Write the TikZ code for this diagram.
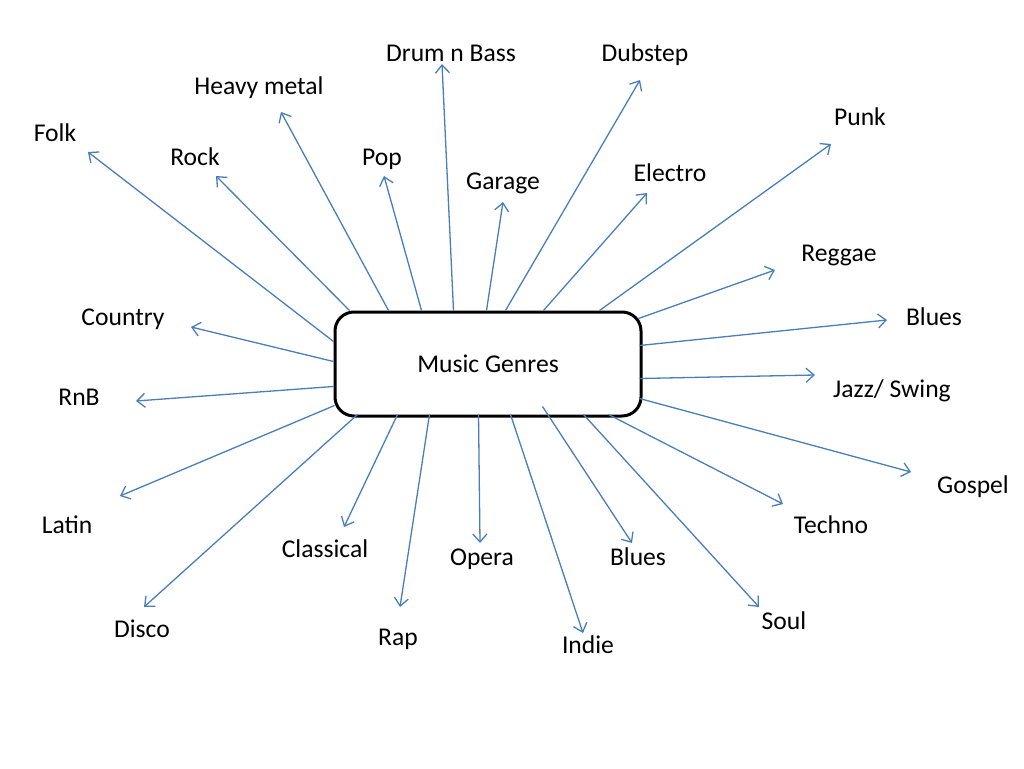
\documentclass[tikz,border=0pt]{standalone}
\usepackage{fontspec}
\setmainfont{Carlito}
\usetikzlibrary{arrows.meta,calc}
\definecolor{arrowblue}{RGB}{74,126,187}
\tikzset{
  genre/.style={font=\fontsize{25.6}{30}\selectfont, inner sep=0pt, text height=16.5pt, text depth=0pt, anchor=center},
  hub/.style={draw=black, line width=3pt, rounded corners=19pt, minimum width=306pt, minimum height=104pt, fill=white, font=\fontsize{25.6}{30}\selectfont},
  link/.style={draw=arrowblue, line width=1.3pt, -{Straight Barb[length=8pt,width=14pt,line width=1.3pt]}}
}
\begin{document}
\begin{tikzpicture}[x=1pt,y=-1pt]
\useasboundingbox (0,0) rectangle (1024,768);
\node[hub] (box) at (488,364) {Music Genres};
% labels
\node[genre] (dnb) at (451,53) {Drum n Bass};
\node[genre] (dub) at (645,53) {Dubstep};
\node[genre] (hm) at (259,86) {Heavy metal};
\node[genre] (folk) at (55,133) {Folk};
\node[genre] (rock) at (195,157) {Rock};
\node[genre] (pop) at (382,157) {Pop};
\node[genre] (gar) at (503,181) {Garage};
\node[genre] (ele) at (670,173) {Electro};
\node[genre] (punk) at (860,117) {Punk};
\node[genre] (reg) at (839,253) {Reggae};
\node[genre] (bluesR) at (934,317) {Blues};
\node[genre] (jazz) at (892,389) {Jazz/ Swing};
\node[genre] (gos) at (973,485) {Gospel};
\node[genre] (tech) at (831,525) {Techno};
\node[genre] (soul) at (784,621) {Soul};
\node[genre] (bluesB) at (638,557) {Blues};
\node[genre] (indie) at (588,645) {Indie};
\node[genre] (opera) at (482,557) {Opera};
\node[genre] (rap) at (398,637) {Rap};
\node[genre] (clas) at (325,549) {Classical};
\node[genre] (disco) at (142,629) {Disco};
\node[genre] (latin) at (67,525) {Latin};
\node[genre] (rnb) at (79,397) {RnB};
\node[genre] (ctry) at (123,317) {Country};
% arrow tips
\coordinate (tFolk) at (88,152);
\coordinate (tRock) at (216,176);
\coordinate (tHm) at (281,112);
\coordinate (tPop) at (384,176);
\coordinate (tDnb) at (442,64);
\coordinate (tGar) at (503,202);
\coordinate (tDub) at (640,80);
\coordinate (tEle) at (647,193);
\coordinate (tPunk) at (831,144);
\coordinate (tReg) at (775,270);
\coordinate (tBluesR) at (887,320);
\coordinate (tJazz) at (815,375);
\coordinate (tGos) at (911,472);
\coordinate (tTech) at (783,504);
\coordinate (tSoul) at (759,607);
\coordinate (tBluesB) at (632,543);
\coordinate (tIndie) at (583,633);
\coordinate (tOpera) at (480,543);
\coordinate (tRap) at (400,607);
\coordinate (tClas) at (344,527);
\coordinate (tDisco) at (144,607);
\coordinate (tLatin) at (120,496);
\coordinate (tRnb) at (136,401);
\coordinate (tCtry) at (191,327);
% connectors (offsets from box north west = (335,312))
\draw[link] ($(box.north west)+(0,31)$) -- (tFolk);
\draw[link] ($(box.north west)+(16,0)$) -- (tRock);
\draw[link] ($(box.north west)+(55,0)$) -- (tHm);
\draw[link] ($(box.north west)+(88,0)$) -- (tPop);
\draw[link] ($(box.north west)+(120,0)$) -- (tDnb);
\draw[link] ($(box.north west)+(153,0)$) -- (tGar);
\draw[link] ($(box.north west)+(172,0)$) -- (tDub);
\draw[link] ($(box.north west)+(210,0)$) -- (tEle);
\draw[link] ($(box.north west)+(266,0)$) -- (tPunk);
\draw[link] ($(box.north west)+(305,8)$) -- (tReg);
\draw[link] ($(box.north west)+(306,35)$) -- (tBluesR);
\draw[link] ($(box.north west)+(306,68)$) -- (tJazz);
\draw[link] ($(box.north west)+(306,88)$) -- (tGos);
\draw[link] ($(box.north west)+(275,104)$) -- (tTech);
\draw[link] ($(box.north west)+(250,104)$) -- (tSoul);
\draw[link] ($(box.north west)+(209,96)$) -- (tBluesB);
\draw[link] ($(box.north west)+(177,104)$) -- (tIndie);
\draw[link] ($(box.north west)+(145,104)$) -- (tOpera);
\draw[link] ($(box.north west)+(96,104)$) -- (tRap);
\draw[link] ($(box.north west)+(64,104)$) -- (tClas);
\draw[link] ($(box.north west)+(24,104)$) -- (tDisco);
\draw[link] ($(box.north west)+(1,95)$) -- (tLatin);
\draw[link] ($(box.north west)+(0,76)$) -- (tRnb);
\draw[link] ($(box.north west)+(0,51)$) -- (tCtry);
\end{tikzpicture}
\end{document}
